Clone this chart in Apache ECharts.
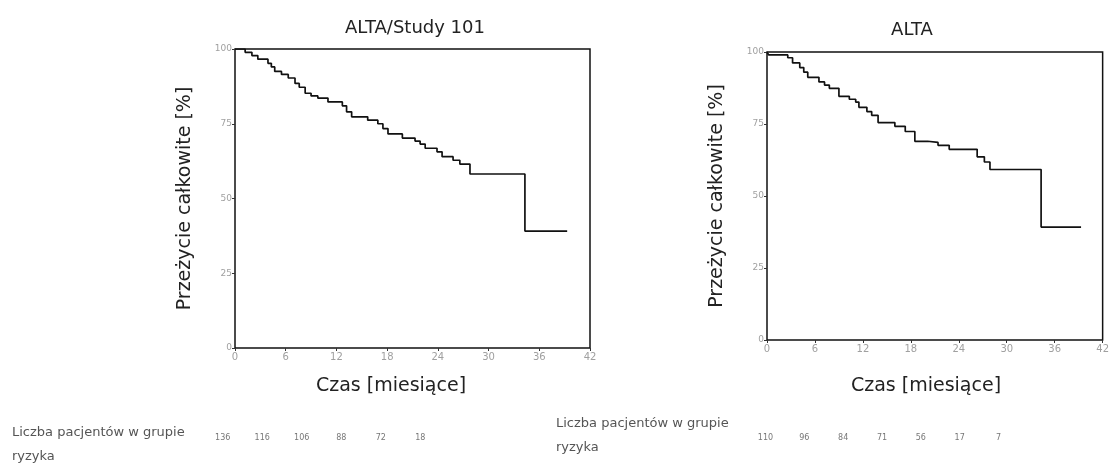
<!DOCTYPE html>
<html><head><meta charset="utf-8">
<script src="https://cdn.jsdelivr.net/npm/echarts@6/dist/echarts.min.js"></script>
<style>html,body{margin:0;padding:0;background:#fff}#c{width:1112px;height:465px}</style>
</head><body><div id="c"></div>
<script>
// Left panel: ALTA/Study 101 (Kaplan-Meier step curve: event time [months], survival after event [%])
const timesA = [0, 1.2, 2.0, 2.7, 3.9, 4.3, 4.7, 5.5, 6.3, 7.1, 7.6, 8.3, 9.0, 9.8, 11.0, 12.7, 13.2, 13.8, 15.7, 16.9, 17.5, 18.1, 19.8, 21.3, 21.9, 22.5, 23.9, 24.5, 25.8, 26.6, 27.8, 34.3, 39.3];
const survA  = [100, 98.9, 97.8, 96.6, 95.2, 94.0, 92.5, 91.5, 90.3, 88.5, 87.2, 85.2, 84.3, 83.6, 82.3, 81.0, 79.0, 77.3, 76.2, 75.0, 73.4, 71.6, 70.2, 69.2, 68.2, 66.8, 65.6, 64.0, 62.8, 61.5, 58.2, 39.1, 39.1];
// Right panel: ALTA
const timesB = [0, 0.2, 2.6, 3.2, 4.1, 4.6, 5.1, 6.5, 7.2, 7.8, 9.0, 10.3, 11.1, 11.5, 12.5, 13.1, 13.9, 16.0, 17.3, 18.5, 20.1, 21.4, 22.8, 26.3, 27.2, 27.9, 34.3, 39.3];
const survB  = [100, 99.0, 98.0, 96.2, 94.6, 93.0, 91.2, 89.6, 88.5, 87.4, 84.6, 83.6, 82.6, 80.8, 79.3, 78.0, 75.5, 74.2, 72.4, 69.0, 68.6, 67.6, 66.2, 63.6, 61.8, 59.2, 39.2, 39.2];
// Numbers at risk
const riskA = ['136', '116', '106', '88', '72', '18'];
const riskB = ['110', '96', '84', '71', '56', '17', '7'];
// Text
const titleA = 'ALTA/Study 101';
const titleB = 'ALTA';
const yTitle = 'Przeżycie całkowite [%]';
const xTitle = 'Czas [miesiące]';
const riskLine1 = 'Liczba pacjentów w grupie';
const riskLine2 = 'ryzyka';

const F = 'DejaVu Sans';
function xAx(gi) {
  return { gridIndex: gi, type: 'value', min: 0, max: 42, interval: 6,
    axisLine: { show: false }, splitLine: { show: false },
    axisTick: { show: true, length: 3, lineStyle: { color: '#333' } },
    axisLabel: { color: '#a0a0a0', fontSize: 10, fontFamily: F, margin: 4 } };
}
function yAx(gi) {
  return { gridIndex: gi, type: 'value', min: 0, max: 100, interval: 25,
    axisLine: { show: false }, splitLine: { show: false },
    axisTick: { show: true, length: 3, lineStyle: { color: '#333' } },
    axisLabel: { color: '#a0a0a0', fontSize: 9, fontFamily: F, margin: 3 },
    name: yTitle, nameLocation: 'middle', nameRotate: 90, nameGap: 40,
    nameTextStyle: { fontSize: 19, fontFamily: F, color: '#222' } };
}
function pairs(t, s) { return t.map((v, i) => [v, s[i]]); }
function riskX(gi, d) {
  return { gridIndex: gi, type: 'category', data: d,
    axisLine: { show: false }, axisTick: { show: false }, splitLine: { show: false },
    axisLabel: { color: '#777', fontSize: 8, fontFamily: F, margin: 2, interval: 0 } };
}
function riskY(gi) { return { gridIndex: gi, type: 'value', show: false }; }

const chart = echarts.init(document.getElementById('c'), null, { renderer: 'canvas' });
chart.setOption({
  animation: false,
  backgroundColor: '#fff',
  grid: [
    { left: 235, top: 49, width: 355, height: 299, show: true, borderColor: '#111', borderWidth: 1.5 },
    { left: 767, top: 52, width: 340, height: 288, show: true, borderColor: '#111', borderWidth: 1.5 },
    { left: 203, top: 431, width: 237, height: 1 },
    { left: 746, top: 431, width: 272, height: 1 }
  ],
  xAxis: [xAx(0), xAx(1), riskX(2, riskA), riskX(3, riskB)],
  yAxis: [yAx(0), yAx(1), riskY(2), riskY(3)],
  series: [
    { type: 'line', step: 'end', xAxisIndex: 0, yAxisIndex: 0, symbol: 'none',
      lineStyle: { color: '#111', width: 1.7 }, data: pairs(timesA, survA) },
    { type: 'line', step: 'end', xAxisIndex: 1, yAxisIndex: 1, symbol: 'none',
      lineStyle: { color: '#111', width: 1.7 }, data: pairs(timesB, survB) }
  ],
  graphic: [
    { type: 'text', x: 415, y: 28, style: { text: titleA, fontSize: 18, fontFamily: F, fill: '#222', align: 'center', verticalAlign: 'middle' } },
    { type: 'text', x: 912, y: 30, style: { text: titleB, fontSize: 18, fontFamily: F, fill: '#222', align: 'center', verticalAlign: 'middle' } },
    { type: 'text', x: 391, y: 386, style: { text: xTitle, fontSize: 19, fontFamily: F, fill: '#222', align: 'center', verticalAlign: 'middle' } },
    { type: 'text', x: 926, y: 386, style: { text: xTitle, fontSize: 19, fontFamily: F, fill: '#222', align: 'center', verticalAlign: 'middle' } },
    { type: 'text', x: 12, y: 433, style: { text: riskLine1, fontSize: 13, fontFamily: F, fill: '#555', align: 'left', verticalAlign: 'middle' } },
    { type: 'text', x: 12, y: 457, style: { text: riskLine2, fontSize: 13, fontFamily: F, fill: '#555', align: 'left', verticalAlign: 'middle' } },
    { type: 'text', x: 556, y: 424, style: { text: riskLine1, fontSize: 13, fontFamily: F, fill: '#555', align: 'left', verticalAlign: 'middle' } },
    { type: 'text', x: 556, y: 448, style: { text: riskLine2, fontSize: 13, fontFamily: F, fill: '#555', align: 'left', verticalAlign: 'middle' } }
  ]
});
</script></body></html>
